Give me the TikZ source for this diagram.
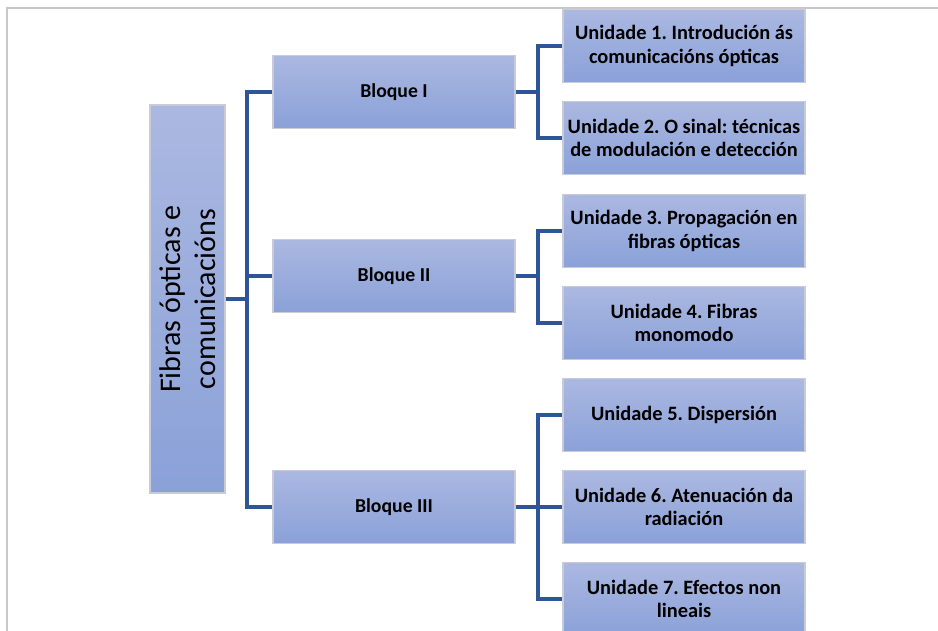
\documentclass[tikz,border=0pt]{standalone}
\usepackage{fontspec}
\setmainfont{Carlito}
\frenchspacing
\usetikzlibrary{positioning,calc}
\definecolor{BoxTop}{HTML}{ABB8E1}
\definecolor{BoxBot}{HTML}{8AA1D8}
\definecolor{Edge}{HTML}{C9CCD6}
\definecolor{Wire}{HTML}{2D5597}
\definecolor{Frame}{HTML}{C8C8C8}

\tikzset{
  box/.style={draw=Edge, line width=0.8pt, top color=BoxTop, bottom color=BoxBot,
    inner sep=0pt, align=center, font=\fontsize{14.8}{17.4}\selectfont\bfseries},
  bloque/.style={box, minimum width=181.5pt, minimum height=54.75pt},
  unidade/.style={box, minimum width=181.5pt, minimum height=54.75pt,
    font=\fontsize{15.3}{17.4}\selectfont\bfseries},
  link/.style={draw=Wire, line width=2.7pt}
}

\begin{document}
\begin{tikzpicture}[x=0.75pt, y=-0.75pt]
    \useasboundingbox (0,0) rectangle (938,631);
    \draw[Frame, line width=0.9pt] (7,631) -- (7,8) -- (938,8);

    \node[box, minimum width=56.25pt, minimum height=291pt] (root) at (187.5,299) {};
    \node[rotate=90, align=center, font=\fontsize{22.5}{26}\selectfont] (rootlabel) at (root.center) {Fibras ópticas e\\comunicacións};

    \node[bloque] (b1) at (394,92) {Bloque I};
    \node[bloque] (b2) at (394,276) {Bloque II};
    \node[bloque] (b3) at (394,507) {Bloque III};

    \node[unidade] (u1) at (684,46) {Unidade 1. Introdución ás\\comunicacións ópticas};
    \node[unidade] (u2) at (684,138) {Unidade 2. O sinal: técnicas\\de modulación e detección};
    \node[unidade] (u3) at (684,231) {Unidade 3. Propagación en\\fibras ópticas};
    \node[unidade] (u4) at (684,323) {Unidade 4. Fibras\\monomodo};
    \node[unidade] (u5) at (684,415) {Unidade 5. Dispersión};
    \node[unidade] (u6) at (684,507) {Unidade 6. Atenuación da\\radiación};
    \node[unidade] (u7) at (684,599) {Unidade 7. Efectos non\\lineais};

    \coordinate (s0) at (247,299);
    \coordinate (s1) at (538,92);
    \coordinate (s2) at (538,276);
    \coordinate (s3) at (538,507);

    \draw[link] (root.east) -- (s0) |- (b1.west);
    \draw[link] (s0) |- (b2.west);
    \draw[link] (s0) |- (b3.west);

    \draw[link] (b1.east) -- (s1) |- (u1.west);
    \draw[link] (s1) |- (u2.west);
    \draw[link] (b2.east) -- (s2) |- (u3.west);
    \draw[link] (s2) |- (u4.west);
    \draw[link] (b3.east) -- (s3) |- (u5.west);
    \draw[link] (s3) -- (u6.west);
    \draw[link] (s3) |- (u7.west);
  \end{tikzpicture}
\end{document}
